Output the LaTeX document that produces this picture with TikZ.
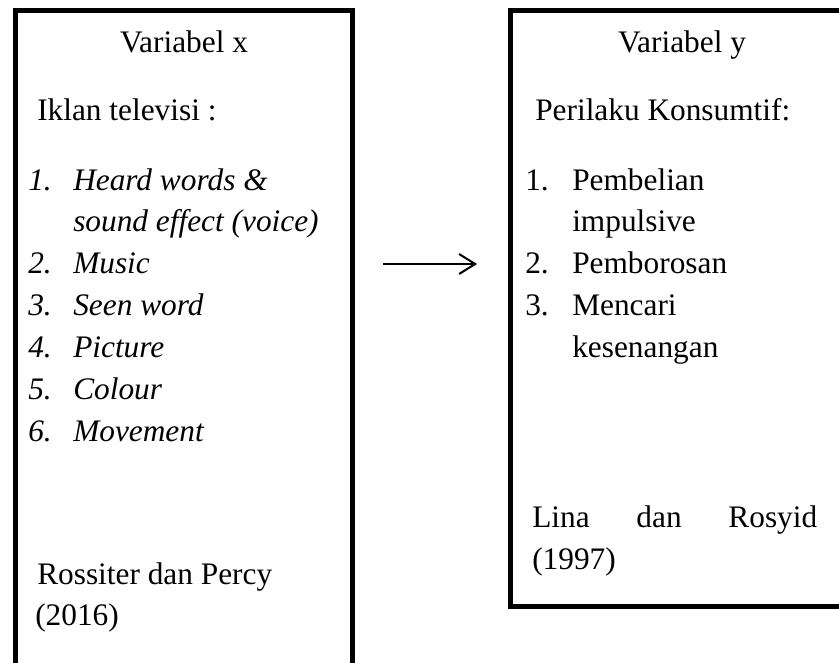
\documentclass[tikz,border=0pt]{standalone}
\usepackage{fontspec}
\setmainfont{Liberation Serif}
\usetikzlibrary{arrows.meta,fit}
\tikzset{
  >={Straight Barb[length=12pt,width=15pt]},
  box/.style ={draw, line width=3.75pt, inner sep=0pt, outer sep=0pt},
  hd/.style  ={anchor=base, inner sep=0pt, font=\fontsize{23.5}{31.5}\selectfont},
  tx/.style  ={anchor=base west, inner sep=0pt, font=\fontsize{23.5}{31.5}\selectfont},
  ix/.style  ={tx, font=\fontsize{23.5}{31.5}\selectfont\itshape},
  link/.style={->, line width=1.5pt, shorten <=23.25pt, shorten >=24.75pt}
}
\begin{document}
\begin{tikzpicture}[x=0.75pt,y=-0.75pt]
\clip (0,0) rectangle (839,662);
% boxes
\node[box, fit={(15,10) (352,700)}] (xbox) {};
\node[box, fit={(510,10) (852,606)}] (ybox) {};
% variabel x
\node[hd] (xhead) at (184,52) {Variabel x};
\node[tx] (xname) at (37,120) {Iklan televisi :};
\node[ix] (xn1) at (28,190) {1.};
\node[ix] (xi1) at (73,190) {Heard words \&};
\node[ix] (xi1b) at (73,231) {sound effect (voice)};
\node[ix] (xn2) at (28,273) {2.};
\node[ix] (xi2) at (73,273) {Music};
\node[ix] (xn3) at (28,315) {3.};
\node[ix] (xi3) at (73,315) {Seen word};
\node[ix] (xn4) at (28,357) {4.};
\node[ix] (xi4) at (73,357) {Picture};
\node[ix] (xn5) at (28,399) {5.};
\node[ix] (xi5) at (73,399) {Colour};
\node[ix] (xn6) at (28,441) {6.};
\node[ix] (xi6) at (73,441) {Movement};
\node[tx] (xsrc) at (37,584) {Rossiter dan Percy};
\node[tx] (xyear) at (35,625) {(2016)};
% variabel y
\node[hd] (yhead) at (682,52) {Variabel y};
\node[tx] (yname) at (535,120) {Perilaku Konsumtif:};
\node[tx] (yn1) at (525,190) {1.};
\node[tx] (yi1) at (572,190) {Pembelian};
\node[tx] (yi1b) at (572,231) {impulsive};
\node[tx] (yn2) at (525,273) {2.};
\node[tx] (yi2) at (572,273) {Pemborosan};
\node[tx] (yn3) at (525,315) {3.};
\node[tx] (yi3) at (572,315) {Mencari};
\node[tx] (yi3b) at (572,357) {kesenangan};
\node[tx, text width=213.75pt] (ysrc) at (532,527) {Lina \hfill dan \hfill Rosyid};
\node[tx] (yyear) at (532,569) {(1997)};
% arrow
\coordinate (mid) at (430,264);
\draw[link] (xbox.east |- mid) -- (ybox.west |- mid);
\end{tikzpicture}
\end{document}
